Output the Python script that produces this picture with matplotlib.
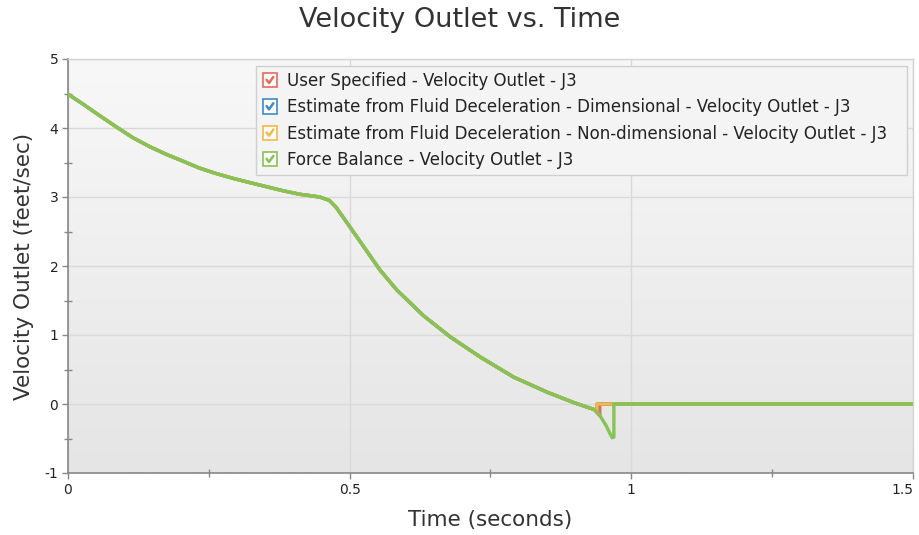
import numpy as np
import matplotlib
matplotlib.use("Agg")
import matplotlib.pyplot as plt
from matplotlib.legend_handler import HandlerBase
from matplotlib.patches import Rectangle
from matplotlib.lines import Line2D

# ---- data ----
base_time = [0.0, 0.026, 0.056, 0.085, 0.115, 0.145, 0.174, 0.204, 0.233, 0.263,
             0.293, 0.322, 0.352, 0.382, 0.411, 0.447, 0.464, 0.476, 0.501, 0.554,
             0.584, 0.631, 0.679, 0.732, 0.791, 0.851, 0.898, 0.934]
base_vel = [4.49, 4.35, 4.18, 4.02, 3.86, 3.73, 3.62, 3.52, 3.42, 3.34,
            3.27, 3.21, 3.15, 3.09, 3.04, 3.00, 2.95, 2.85, 2.56, 1.94,
            1.65, 1.28, 0.97, 0.68, 0.39, 0.17, 0.02, -0.08]

user_tail_time = [0.944, 0.944, 1.5]
user_tail_vel = [-0.17, 0.0, 0.0]
dim_tail_time = [0.939, 0.939, 1.5]
dim_tail_vel = [-0.10, 0.0, 0.0]
nondim_tail_time = [0.939, 0.939, 1.5]
nondim_tail_vel = [-0.10, 0.0, 0.0]
force_tail_time = [0.942, 0.955, 0.964, 0.966, 0.969, 0.969, 1.5]
force_tail_vel = [-0.14, -0.31, -0.46, -0.49, -0.48, 0.0, 0.0]

series_names = ["User Specified - Velocity Outlet - J3",
                "Estimate from Fluid Deceleration - Dimensional - Velocity Outlet - J3",
                "Estimate from Fluid Deceleration - Non-dimensional - Velocity Outlet - J3",
                "Force Balance - Velocity Outlet - J3"]
series_colors = ["#E8695B", "#3C8BC9", "#F5B942", "#84C551"]

x_ticks = [0, 0.5, 1, 1.5]
x_tick_labels = ["0", "0.5", "1", "1.5"]
y_ticks = [-1, 0, 1, 2, 3, 4, 5]

series = [
    (base_time + user_tail_time, base_vel + user_tail_vel),
    (base_time + dim_tail_time, base_vel + dim_tail_vel),
    (base_time + nondim_tail_time, base_vel + nondim_tail_vel),
    (base_time + force_tail_time, base_vel + force_tail_vel),
]

plt.rcParams['font.family'] = ['DejaVu Sans']
plt.rcParams['axes.unicode_minus'] = False
fig = plt.figure(figsize=(9.19, 5.35), dpi=100)
ax = fig.add_axes([68/919, 62/535, 845/919, 414/535])

# gradient background
grad = np.linspace(0, 1, 256).reshape(-1, 1)
ax.imshow(grad, extent=[0, 1, 0, 1], transform=ax.transAxes, aspect='auto',
          cmap=matplotlib.colors.LinearSegmentedColormap.from_list("bg", ["#E5E5E5", "#F8F8F8"]),
          origin='lower', zorder=0)

for (t, v), c in zip(series, series_colors):
    ax.plot(t, v, color=c, lw=2.4, zorder=3, solid_joinstyle='round')

ax.set_xlim(0, 1.5)
ax.set_ylim(-1, 5)
ax.set_xticks(x_ticks)
ax.set_xticklabels(x_tick_labels)
ax.get_xticklabels()[-1].set_horizontalalignment('right')
ax.set_yticks(y_ticks)
ax.set_xticks([0.25, 0.75, 1.25], minor=True)
ax.set_yticks([-0.5, 0.5, 1.5, 2.5, 3.5, 4.5], minor=True)
ax.grid(True, which='major', color='#D9D9D9', lw=1.0, zorder=1)
ax.set_axisbelow(True)
ax.tick_params(which='major', direction='out', length=4, width=1, color='#888888',
               labelsize=10, labelcolor='#222222', pad=3)
ax.tick_params(which='minor', direction='inout', length=6, width=1, color='#888888')
for s in ['left', 'bottom']:
    ax.spines[s].set_color('#888888')
    ax.spines[s].set_linewidth(1.2)
for s in ['top', 'right']:
    ax.spines[s].set_color('#D4D4D4')
    ax.spines[s].set_linewidth(1.0)

fig.text(0.5, 1 - 20/535, "Velocity Outlet vs. Time", fontsize=19.5, color='#333333',
         ha='center', va='center')
ax.set_xlabel("Time (seconds)", fontsize=15.5, color='#333333')
ax.set_ylabel("Velocity Outlet (feet/sec)", fontsize=15.5, color='#333333')
ax.xaxis.set_label_coords(0.5, (473 - 520) / 414)
ax.yaxis.set_label_coords((24 - 68) / 845, 0.5)
ax.xaxis.label.set_va('center')
ax.yaxis.label.set_va('center')


class CheckHandler(HandlerBase):
    def __init__(self, color):
        super().__init__()
        self.color = color

    def create_artists(self, legend, orig_handle, xdescent, ydescent, width, height, fontsize, trans):
        s = min(width, height) * 1.0
        x0 = -xdescent + (width - s) / 2
        y0 = -ydescent + (height - s) / 2
        box = Rectangle((x0, y0), s, s, facecolor='white', edgecolor=self.color, lw=1.2, transform=trans)
        chk = Line2D([x0 + 0.28*s, x0 + 0.45*s, x0 + 0.75*s],
                     [y0 + 0.52*s, y0 + 0.30*s, y0 + 0.72*s],
                     color=self.color, lw=1.8, transform=trans, solid_capstyle='round')
        return [box, chk]


handles = [Rectangle((0, 0), 1, 1) for _ in series_names]
hmap = {h: CheckHandler(c) for h, c in zip(handles, series_colors)}
lx0 = (256 - 68) / 845
lx1 = (907 - 68) / 845
ltop = (473 - 66) / 414
leg = ax.legend(handles, series_names, handler_map=hmap, loc='upper left',
                bbox_to_anchor=(lx0, ltop - 0.2, lx1 - lx0, 0.2), mode='expand',
                fontsize=12, frameon=True, fancybox=False,
                handlelength=0.95, handleheight=0.95, handletextpad=0.55, labelspacing=0.5,
                borderpad=0.35, borderaxespad=0)
leg.get_frame().set_facecolor('#F4F4F4')
leg.get_frame().set_edgecolor('#CFCFCF')
leg.get_frame().set_alpha(1)
leg.set_zorder(5)
for txt in leg.get_texts():
    txt.set_color('#222222')

fig.savefig("out.png", dpi=100)
